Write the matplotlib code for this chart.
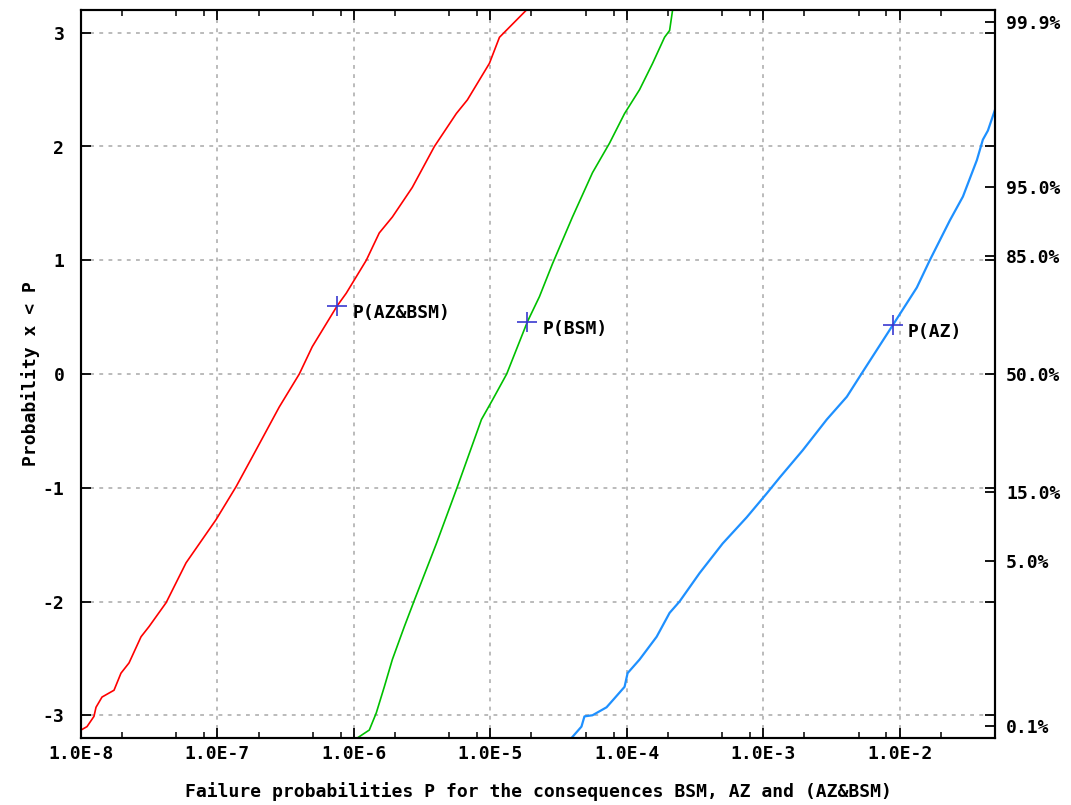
import numpy as np
import matplotlib
matplotlib.use("Agg")
import matplotlib.pyplot as plt
from matplotlib.ticker import FixedLocator, NullFormatter
from statistics import NormalDist

az_bsm_logp = [-8.0, -7.956, -7.905, -7.890, -7.846, -7.758, -7.707, -7.648, -7.560,
               -7.501, -7.376, -7.230, -7.010, -6.863, -6.745, -6.547, -6.40, -6.305,
               -6.122, -6.056, -5.909, -5.814, -5.718, -5.572, -5.410, -5.249, -5.168,
               -5.007, -4.933, -4.735]
az_bsm_z = [-3.13, -3.10, -3.01, -2.93, -2.84, -2.78, -2.63, -2.54, -2.31,
            -2.22, -2.01, -1.66, -1.28, -0.99, -0.73, -0.29, 0.0, 0.24,
            0.60, 0.71, 1.00, 1.24, 1.38, 1.64, 2.00, 2.29, 2.41,
            2.73, 2.96, 3.20]

bsm_logp = [-5.975, -5.887, -5.836, -5.777, -5.718, -5.630, -5.557, -5.395, -5.241,
            -5.065, -4.985, -4.880, -4.728, -4.640, -4.544, -4.398, -4.251, -4.126,
            -4.016, -3.906, -3.811, -3.723, -3.686, -3.664]
bsm_z = [-3.20, -3.13, -2.98, -2.75, -2.51, -2.22, -1.99, -1.49, -0.99,
         -0.40, -0.23, 0.0, 0.46, 0.68, 0.97, 1.38, 1.77, 2.03,
         2.29, 2.50, 2.73, 2.96, 3.02, 3.20]

az_logp = [-4.405, -4.332, -4.310, -4.251, -4.148, -4.089, -4.016, -3.994, -3.906,
           -3.781, -3.686, -3.613, -3.466, -3.297, -3.121, -2.974, -2.879, -2.710,
           -2.534, -2.387, -2.270, -2.050, -1.874, -1.779, -1.632, -1.536, -1.434,
           -1.390, -1.353, -1.302]
az_z = [-3.20, -3.10, -3.01, -3.00, -2.93, -2.85, -2.75, -2.63, -2.51,
        -2.31, -2.10, -2.00, -1.75, -1.49, -1.26, -1.05, -0.91, -0.67,
        -0.40, -0.20, 0.02, 0.43, 0.76, 1.00, 1.35, 1.56, 1.88,
        2.06, 2.14, 2.32]

# marked points
mark_names = ["P(AZ&BSM)", "P(BSM)", "P(AZ)"]
mark_p = [7.55e-7, 1.87e-5, 8.9e-3]
mark_z = [0.60, 0.457, 0.43]

pct_labels = ["99.9%", "95.0%", "85.0%", "50.0%", "15.0%", "5.0%", "0.1%"]
pct_values = [0.999, 0.95, 0.85, 0.50, 0.15, 0.05, 0.001]

xtick_vals = [1e-8, 1e-7, 1e-6, 1e-5, 1e-4, 1e-3, 1e-2]
xtick_labels = ["1.0E-8", "1.0E-7", "1.0E-6", "1.0E-5", "1.0E-4", "1.0E-3", "1.0E-2"]
ytick_vals = [-3, -2, -1, 0, 1, 2, 3]

font = {"family": "DejaVu Sans Mono", "weight": "bold", "size": 13}

fig = plt.figure(figsize=(10.71, 8.05), dpi=100)
ax = fig.add_axes([81 / 1071, 1 - 738 / 805, (995 - 81) / 1071, (738 - 10) / 805])

ax.plot(10 ** np.array(az_bsm_logp), az_bsm_z, color="#ff0000", lw=1.2)
ax.plot(10 ** np.array(bsm_logp), bsm_z, color="#00c000", lw=1.2)
ax.plot(10 ** np.array(az_logp), az_z, color="#1e90ff", lw=1.6)

ax.plot(mark_p, mark_z, ls="none", marker="+", ms=14, mew=1.2, color="#3a3ad0", zorder=5)
for name, p, z in zip(mark_names, mark_p, mark_z):
    ax.annotate(name, (p, z), xytext=(11, -5), textcoords="offset points",
                ha="left", va="center", **font)

ax.set_xscale("log")
ax.set_xlim(1e-8, 5e-2)
ax.set_ylim(-3.2, 3.2)

ax.xaxis.set_major_locator(FixedLocator(xtick_vals))
ax.set_xticklabels(xtick_labels, **font)
minors = [m * 10.0 ** e for e in range(-8, -1) for m in (2, 5, 8)]
ax.xaxis.set_minor_locator(FixedLocator(minors))
ax.xaxis.set_minor_formatter(NullFormatter())
ax.set_yticks(ytick_vals)
ax.set_yticklabels([str(v) for v in ytick_vals], **font)

ax.tick_params(axis="both", which="major", direction="in", length=7, width=1.3,
               top=True, color="black")
ax.tick_params(axis="x", which="minor", direction="in", length=4, width=1.1, top=True)
ax.tick_params(axis="x", which="major", pad=5)
ax.tick_params(axis="y", which="major", pad=12)

ax.grid(True, which="major", color="#a8a8a8", ls=(0, (2.5, 3.5)), lw=1.1)
for s in ax.spines.values():
    s.set_linewidth(1.5)

ax2 = ax.twinx()
ax2.set_ylim(-3.2, 3.2)
ax2.set_yticks([NormalDist().inv_cdf(p) for p in pct_values])
ax2.set_yticklabels(pct_labels, **font)
ax2.yaxis.set_minor_locator(FixedLocator(ytick_vals))
ax2.yaxis.set_minor_formatter(NullFormatter())
ax2.tick_params(axis="y", which="both", direction="in", length=7, width=1.3, pad=8)
for s in ax2.spines.values():
    s.set_linewidth(1.5)

ax.set_xlabel("Failure probabilities P for the consequences BSM, AZ and (AZ&BSM)",
              labelpad=14, **font)
ax.set_ylabel("Probability x < P", labelpad=2, **font)

fig.savefig("out.png", dpi=100)
